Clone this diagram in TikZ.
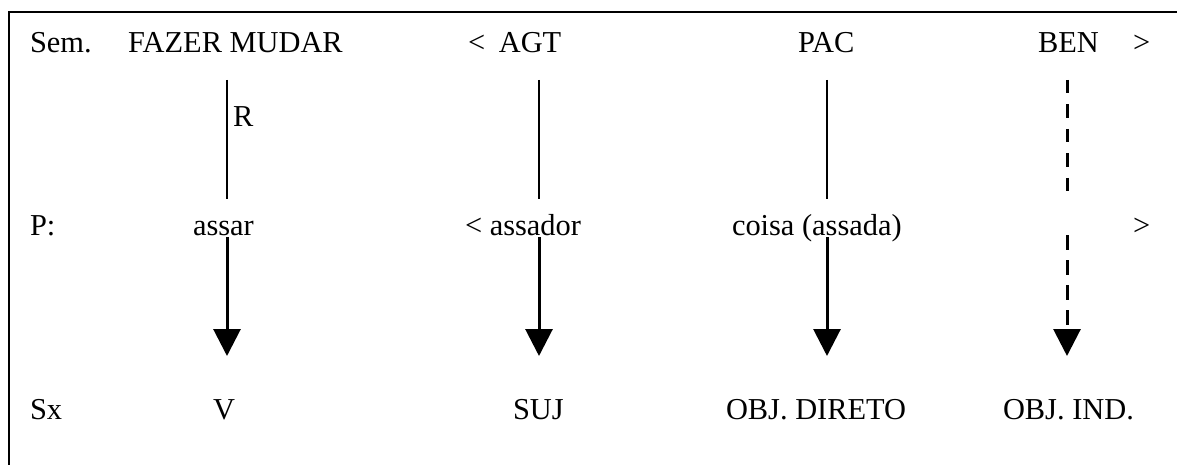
\documentclass[tikz,border=0pt]{standalone}
\usepackage{fontspec}
\setmainfont{Liberation Serif}
\usetikzlibrary{arrows.meta}
\tikzset{
  lbl/.style={anchor=base west, inner sep=0pt, outer sep=0pt, font=\fontsize{30.4}{36}\selectfont},
  link/.style={line width=2pt},
  dlink/.style={line width=3pt, dash pattern=on 13.5pt off 11pt},
  arr/.style={line width=3pt, -{Triangle[width=27pt,length=27pt]}},
  darr/.style={line width=3pt, dash pattern=on 15pt off 10pt, -{Triangle[width=27pt,length=27pt]}},
  frame/.style={line width=2.7pt}
}
\begin{document}
\begin{tikzpicture}[x=1pt,y=-1pt]
\useasboundingbox (0,0) rectangle (1177,465);
\fill[white] (0,0) rectangle (1177,465);
% frame
\coordinate (fb) at (9,470);
\coordinate (fc) at (9,12);
\coordinate (fr) at (1182,12);
\draw[frame] (fb) -- (fc) -- (fr);
% row 1
\node[lbl] (sem) at (30,53) {Sem.};
\node[lbl] (fazer) at (128,53) {FAZER MUDAR};
\node[lbl] (agt) at (468,53) {<\hspace{0.45em}AGT};
\node[lbl] (pac) at (798,53) {PAC};
\node[lbl] (ben) at (1038,53) {BEN};
\node[lbl] (gt1) at (1133,53) {>};
\node[lbl] (r) at (233,127) {R};
% row 2
\node[lbl] (p) at (30,235) {P:};
\node[lbl] (assar) at (193,235) {assar};
\node[lbl] (assador) at (465,235) {< assador};
\node[lbl] (coisa) at (732,235) {coisa (assada)};
\node[lbl] (gt2) at (1133,235) {>};
% row 3
\node[lbl] (sx) at (30,419) {Sx};
\node[lbl] (v) at (213,419) {V};
\node[lbl] (suj) at (513,419) {SUJ};
\node[lbl] (od) at (726,419) {OBJ. DIRETO};
\node[lbl] (oi) at (1003,419) {OBJ. IND.};
% connector end points
\foreach \n/\x in {a/227,b/539,c/827,d/1067}{
  \coordinate (\n1) at (\x,80);
  \coordinate (\n2) at (\x,199);
  \coordinate (\n3) at (\x,237);
  \coordinate (\n4) at (\x,356);
}
\coordinate (d2) at (1067,193);
\coordinate (d3) at (1067,235);
% upper links
\draw[link] (a1) -- (a2);
\draw[link] (b1) -- (b2);
\draw[link] (c1) -- (c2);
\draw[dlink] (d1) -- (d2);
% lower arrows
\draw[arr] (a3) -- (a4);
\draw[arr] (b3) -- (b4);
\draw[arr] (c3) -- (c4);
\draw[darr] (d3) -- (d4);
\end{tikzpicture}
\end{document}
